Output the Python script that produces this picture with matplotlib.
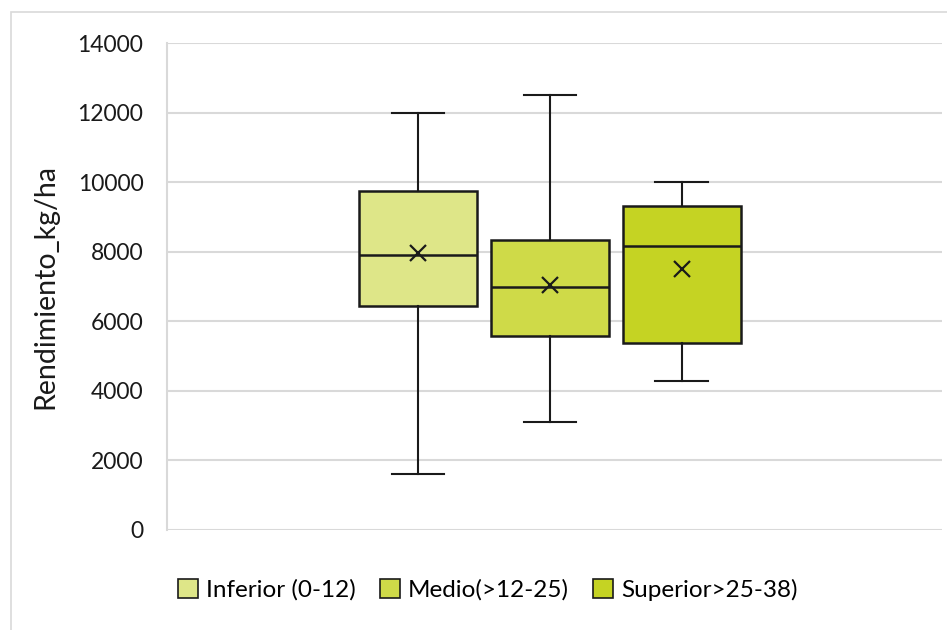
import matplotlib
matplotlib.use("Agg")
import matplotlib.pyplot as plt
from matplotlib.patches import Patch, Rectangle

categories = ["Inferior (0-12)", "Medio(>12-25)", "Superior>25-38)"]
whislo = [1600, 3100, 4270]
q1 = [6450, 5580, 5370]
med = [7900, 7000, 8150]
q3 = [9750, 8350, 9300]
whishi = [12000, 12500, 10000]
means = [7950, 7050, 7500]
colors = ["#DEE688", "#CFDA48", "#C5D323"]
yticks = [0, 2000, 4000, 6000, 8000, 10000, 12000, 14000]

plt.rcParams['font.family'] = ['Lato', 'DejaVu Sans']

fig = plt.figure(figsize=(9.47, 6.3), dpi=100)
ax = fig.add_axes([167/947, 1-530/630, (942-167)/947, (530-43)/630])

stats = []
for i, c in enumerate(categories):
    stats.append(dict(label=c, whislo=whislo[i], q1=q1[i], med=med[i], q3=q3[i],
                      whishi=whishi[i], mean=means[i], fliers=[]))

positions = [0.494 - 0.17, 0.494, 0.494 + 0.17]
bp = ax.bxp(stats, positions=positions, widths=0.152, patch_artist=True, showmeans=True,
            boxprops=dict(edgecolor="#1a1a1a", linewidth=1.8),
            medianprops=dict(color="#1a1a1a", linewidth=1.8),
            whiskerprops=dict(color="#1a1a1a", linewidth=1.5),
            capprops=dict(color="#1a1a1a", linewidth=1.5),
            meanprops=dict(marker="x", markeredgecolor="#1a1a1a", markersize=12, markeredgewidth=1.6),
            capwidths=0.068)
for patch, col in zip(bp["boxes"], colors):
    patch.set_facecolor(col)

ax.set_xlim(0, 1)
ax.set_ylim(0, 14000)
ax.set_yticks(yticks)
ax.set_yticklabels([str(v) for v in yticks], fontsize=16.5, color="#1a1a1a")
ax.set_xticks([])
ax.yaxis.grid(True, color="#D9D9D9", linewidth=1.5)
ax.set_axisbelow(True)
ax.tick_params(axis="y", length=0, pad=17)
for s in ["top", "right", "bottom"]:
    ax.spines[s].set_visible(False)
ax.spines["left"].set_color("#D9D9D9")
ax.spines["left"].set_linewidth(1.5)
ax.set_ylabel("Rendimiento_kg/ha", fontsize=20.5, color="#1a1a1a", labelpad=14)

handles = [Patch(facecolor=col, edgecolor="#1a1a1a", linewidth=1.2) for col in colors]
fig.legend(handles, categories, loc="center", bbox_to_anchor=(488/947, 1-590/630), ncol=3,
           frameon=False, fontsize=17.5, handlelength=0.8, handleheight=0.8,
           handletextpad=0.35, columnspacing=1.0)

fig.add_artist(Rectangle((11/947, -0.1), 1.0, 1-12/630 + 0.1, transform=fig.transFigure,
                         fill=False, edgecolor="#D9D9D9", linewidth=1.2))

fig.savefig("out.png", dpi=100, facecolor="white")
